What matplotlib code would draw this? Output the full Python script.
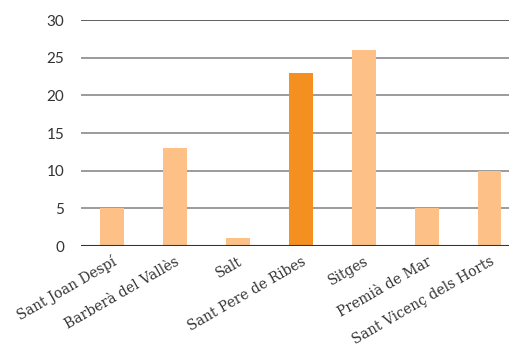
import matplotlib
matplotlib.use("Agg")
import matplotlib.pyplot as plt
import numpy as np

# municipis i valors
municipis = ["Sant Joan Despí", "Barberà del Vallès", "Salt", "Sant Pere de Ribes",
             "Sitges", "Premià de Mar", "Sant Vicenç dels Horts"]
valors = [5, 13, 1, 23, 26, 5, 10]
destacat = "Sant Pere de Ribes"

color_clar = "#fdc188"
color_fosc = "#f39020"

fig = plt.figure(figsize=(5.1, 3.47), dpi=100)
ax = fig.add_axes([0.159, 0.291, 0.841, 0.651])

x = np.arange(len(municipis))
colors = [color_fosc if m == destacat else color_clar for m in municipis]
ax.bar(x, valors, width=0.37, color=colors, zorder=3)

ax.set_ylim(0, 30)
ax.set_xlim(-0.49, 6.32)
ax.set_yticks([0, 5, 10, 15, 20, 25, 30])
for v in [5, 10, 15, 20, 25]:
    ax.axhline(v, color="#8a8a8a", lw=1.2, zorder=1)
ax.axhline(0, color="#333333", lw=1.5, zorder=4)
ax.axhline(30, color="#444444", lw=1.2, zorder=1)

for s in ax.spines.values():
    s.set_visible(False)
ax.tick_params(axis="both", length=0)
ax.tick_params(axis="y", pad=12, labelsize=11, labelcolor="#333333")
for t in ax.get_yticklabels():
    t.set_fontfamily("Lato")

ax.set_xticks(x)
ax.set_xticklabels(municipis, rotation=30, ha="right", rotation_mode="anchor",
                   fontfamily="DejaVu Serif", fontsize=10, color="#333333")
ax.tick_params(axis="x", pad=6)

fig.savefig("out.png", dpi=100)
